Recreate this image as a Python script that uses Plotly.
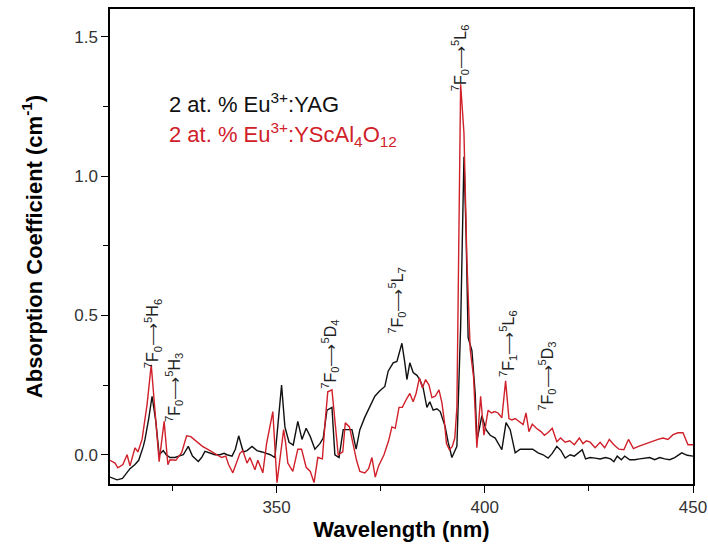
import plotly.graph_objects as go

# --- data ---
yag_x = [310.0, 311.7, 313.0, 314.8, 316.0, 316.9, 318.0, 318.4, 319.3, 320.1, 321.0, 321.8, 322.8, 323.5,
         324.4, 325.6, 326.5, 327.6, 328.8, 329.8, 331.2, 332.0, 332.8, 334.0, 335.2, 336.4, 337.4, 338.1,
         339.3, 340.1, 340.9, 342.0, 342.9, 344.1, 345.3, 346.5, 347.7, 348.5, 349.6, 350.4, 351.2, 352.0,
         353.0, 354.0, 355.1, 356.1, 357.1, 358.1, 359.2, 360.4, 361.2, 362.1, 363.3, 364.0, 365.0, 366.0,
         366.9, 368.1, 369.1, 370.0, 371.2, 372.4, 373.6, 374.8, 376.0, 376.8, 378.0, 378.9, 379.4, 380.1,
         380.8, 381.3, 382.0, 382.8, 383.7, 384.4, 385.2, 386.1, 386.8, 387.6, 388.5, 389.3, 390.5, 391.2,
         392.1, 393.3, 394.2, 395.0, 395.5, 396.0, 396.9, 397.7, 398.1, 399.3, 400.3, 401.3, 402.5, 404.1,
         405.1, 406.1, 407.3, 408.5, 410.0, 411.5, 412.8, 414.0, 415.2, 416.2, 417.3, 418.3, 419.3, 420.5,
         421.5, 422.5, 423.4, 424.2, 425.3, 426.5, 427.7, 429.0, 430.2, 431.0, 431.8, 432.8, 433.6, 434.8,
         436.0, 437.2, 438.4, 439.6, 440.8, 442.0, 443.2, 444.4, 445.6, 447.3, 448.6, 450.0]
yag_y = [-0.08, -0.09, -0.085, -0.05, -0.035, -0.02, 0.03, 0.055, 0.13, 0.21, 0.12, 0.0, 0.015, 0.0,
         -0.01, -0.01, -0.005, 0.0, 0.03, -0.005, -0.024, -0.01, 0.012, 0.005, 0.0, 0.0, 0.005, 0.0,
         -0.005, 0.02, 0.068, 0.01, 0.015, 0.03, 0.015, 0.01, 0.005, 0.0, -0.01, 0.12, 0.25, 0.1,
         0.045, 0.035, 0.12, 0.055, 0.095, 0.065, 0.02, 0.04, 0.06, 0.16, 0.17, 0.0, -0.01, 0.09,
         0.09, 0.09, 0.02, 0.09, 0.135, 0.17, 0.21, 0.23, 0.245, 0.30, 0.33, 0.335, 0.36, 0.40,
         0.33, 0.27, 0.33, 0.295, 0.285, 0.27, 0.24, 0.17, 0.19, 0.16, 0.165, 0.155, 0.10, 0.045,
         -0.01, 0.03, 0.46, 1.07, 0.80, 0.42, 0.375, 0.22, 0.05, 0.14, 0.09, 0.07, 0.06, 0.018,
         0.115, 0.09, 0.007, 0.02, 0.02, 0.02, 0.007, 0.0, -0.012, 0.005, 0.03, 0.015, -0.012, 0.0,
         -0.005, 0.008, 0.018, -0.015, -0.01, -0.012, -0.015, -0.01, -0.015, -0.025, -0.005, -0.018, -0.005, -0.018,
         -0.018, -0.015, -0.012, -0.01, -0.018, -0.01, -0.015, -0.018, -0.01, 0.007, -0.002, -0.005]

ysc_x = [310.0, 311.2, 311.9, 313.1, 314.1, 314.8, 316.0, 316.7, 317.7, 318.9, 319.9, 320.8, 321.8, 323.0,
         323.9, 324.4, 325.8, 327.2, 328.4, 329.4, 330.8, 332.2, 333.6, 335.2, 336.8, 337.8, 338.5, 339.5,
         340.4, 341.2, 341.9, 342.9, 343.6, 344.8, 345.5, 346.7, 347.6, 348.3, 349.1, 350.1, 351.0, 351.7,
         352.2, 352.7, 353.9, 355.1, 356.0, 357.1, 358.1, 359.0, 359.9, 361.0, 361.7, 362.3, 363.3, 364.0,
         364.8, 365.9, 366.5, 367.5, 368.4, 369.2, 370.0, 371.2, 372.1, 372.9, 373.7, 374.5, 375.8, 376.9,
         377.7, 378.5, 379.4, 380.2, 381.2, 382.0, 382.8, 383.5, 384.3, 385.0, 385.8, 386.6, 387.3, 388.1,
         389.0, 389.7, 390.3, 390.8, 391.5, 392.2, 392.8, 393.3, 394.2, 395.0, 395.7, 396.5, 397.3, 398.1,
         399.0, 399.8, 400.8, 401.6, 402.4, 403.2, 404.1, 405.0, 405.8, 406.5, 407.3, 408.2, 409.2, 409.9,
         410.6, 411.4, 412.4, 413.5, 414.3, 415.2, 416.2, 417.3, 418.2, 419.3, 420.4, 421.5, 422.7, 423.6,
         424.4, 425.3, 426.5, 427.7, 428.8, 429.9, 431.0, 432.2, 433.4, 434.5, 435.7, 436.9, 438.0, 439.2,
         440.4, 441.6, 442.8, 444.0, 445.2, 446.4, 447.6, 448.8, 450.0]
ysc_y = [-0.02, -0.03, -0.047, -0.035, 0.0, -0.04, 0.025, 0.01, 0.055, 0.18, 0.323, 0.15, -0.025, 0.12,
         -0.036, -0.018, -0.02, 0.007, 0.068, 0.065, 0.048, 0.03, 0.018, 0.005, -0.01, -0.005, -0.036, -0.065,
         -0.03, 0.005, 0.015, -0.03, -0.01, -0.054, -0.02, -0.065, 0.04, 0.10, 0.155, -0.10, 0.02, 0.09,
         0.04, -0.03, -0.06, 0.02, 0.02, -0.045, -0.06, -0.10, -0.01, -0.015, 0.125, 0.226, 0.233, 0.13,
         0.0, 0.01, 0.115, 0.10, 0.04, -0.02, -0.06, -0.065, -0.05, -0.01, -0.08, -0.04, 0.0, 0.05,
         0.10, 0.095, 0.17, 0.17, 0.20, 0.22, 0.19, 0.22, 0.276, 0.24, 0.27, 0.25, 0.205, 0.21,
         0.233, 0.187, 0.12, 0.04, 0.018, 0.03, 0.06, 0.17, 1.33, 1.155, 0.70, 0.377, 0.28, 0.025,
         0.21, 0.07, 0.16, 0.15, 0.155, 0.15, 0.133, 0.265, 0.13, 0.125, 0.13, 0.12, 0.108, 0.15,
         0.083, 0.11, 0.095, 0.083, 0.07, 0.08, 0.095, 0.047, 0.06, 0.045, 0.05, 0.036, 0.06, 0.04,
         0.05, 0.045, 0.025, 0.045, 0.025, 0.055, 0.036, 0.02, 0.018, 0.055, 0.022, 0.03, 0.036, 0.043,
         0.05, 0.055, 0.06, 0.055, 0.072, 0.079, 0.079, 0.036, 0.036]

label_yag = "2 at. % Eu<sup>3+</sup>:YAG"
label_ysc = "2 at. % Eu<sup>3+</sup>:YScAl<sub>4</sub>O<sub>12</sub>"

trans_text = ["<sup>7</sup>F<sub>0</sub>⟶<sup>5</sup>H<sub>6</sub>",
              "<sup>7</sup>F<sub>0</sub>⟶<sup>5</sup>H<sub>3</sub>",
              "<sup>7</sup>F<sub>0</sub>⟶<sup>5</sup>D<sub>4</sub>",
              "<sup>7</sup>F<sub>0</sub>⟶<sup>5</sup>L<sub>7</sub>",
              "<sup>7</sup>F<sub>0</sub>⟶<sup>5</sup>L<sub>6</sub>",
              "<sup>7</sup>F<sub>1</sub>⟶<sup>5</sup>L<sub>6</sub>",
              "<sup>7</sup>F<sub>0</sub>⟶<sup>5</sup>D<sub>3</sub>"]
trans_x = [320.3, 325.4, 362.8, 378.9, 394.1, 405.6, 414.9]
trans_y = [0.436, 0.24, 0.362, 0.556, 1.424, 0.398, 0.283]

BLACK = "#111111"
RED = "#d0202a"
FONT = "Liberation Sans, Arial, sans-serif"

fig = go.Figure()
fig.add_trace(go.Scatter(x=yag_x, y=yag_y, mode="lines", line=dict(color=BLACK, width=1.4),
                         name="YAG", showlegend=False))
fig.add_trace(go.Scatter(x=ysc_x, y=ysc_y, mode="lines", line=dict(color=RED, width=1.4),
                         name="YScAl4O12", showlegend=False))

for t, x, y in zip(trans_text, trans_x, trans_y):
    fig.add_annotation(x=x, y=y, xref="x", yref="y", text=t, textangle=-90, showarrow=False,
                       font=dict(family=FONT, size=16, color="#222222"))

fig.add_annotation(x=0.098, y=0.802, xref="paper", yref="paper", text=label_yag, showarrow=False,
                   xanchor="left", yanchor="middle", font=dict(family=FONT, size=22, color=BLACK))
fig.add_annotation(x=0.098, y=0.735, xref="paper", yref="paper", text=label_ysc, showarrow=False,
                   xanchor="left", yanchor="middle", font=dict(family=FONT, size=22, color=RED))

axis_common = dict(showline=True, linecolor="black", linewidth=1.5, mirror=True, ticks="outside",
                   ticklen=7, tickwidth=1.3, tickcolor="black", showgrid=False, zeroline=False,
                   automargin=False,
                   tickfont=dict(family=FONT, size=17, color="#333333"))

fig.update_xaxes(range=[310, 450], tick0=300, dtick=50,
                 minor=dict(dtick=25, tick0=300, ticks="outside", ticklen=5, tickcolor="black", tickwidth=1.3),
                 title=dict(text="<b>Wavelength (nm)</b>", font=dict(family=FONT, size=22, color="black"),
                            standoff=0),
                 **axis_common)
fig.update_yaxes(range=[-0.105, 1.6], tick0=0, dtick=0.5, tickformat=".1f",
                 minor=dict(dtick=0.25, tick0=0, ticks="outside", ticklen=5, tickcolor="black", tickwidth=1.3),
                 title=dict(text="<b>Absorption Coefficient (cm<sup>-1</sup>)</b>",
                            font=dict(family=FONT, size=22, color="black"), standoff=26),
                 **axis_common)

fig.update_layout(width=708, height=548, autosize=False, margin=dict(l=110, r=15, t=9, b=64),
                  paper_bgcolor="white", plot_bgcolor="white", showlegend=False)

# remove the default 8px page margin so the 708x548 figure fits the window exactly
fig.write_html("out.html", config={"displayModeBar": False, "responsive": False},
               post_script="document.body.style.margin='0px';")
